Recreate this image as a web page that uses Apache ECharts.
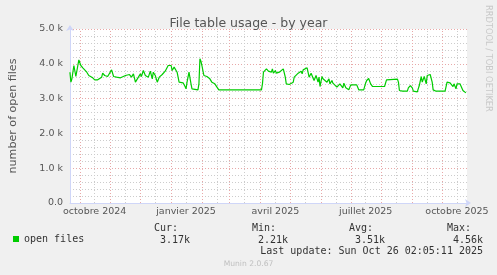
<!DOCTYPE html>
<html><head><meta charset="utf-8">
<script src="https://cdn.jsdelivr.net/npm/echarts@6/dist/echarts.min.js"></script>
<style>html,body{margin:0;padding:0;background:#F0F0F0;}#c{width:497px;height:275px;}</style>
</head><body><div id="c"></div>
<script>
const dates = [
'2024-09-21','2024-09-22','2024-09-23','2024-09-25','2024-09-27','2024-09-30','2024-10-02','2024-10-04','2024-10-06','2024-10-08',
'2024-10-10','2024-10-12','2024-10-14','2024-10-16','2024-10-18','2024-10-19','2024-10-21','2024-10-23','2024-10-24','2024-10-26',
'2024-10-28','2024-10-29','2024-10-31','2024-11-02','2024-11-04','2024-11-07','2024-11-08','2024-11-11','2024-11-13','2024-11-16',
'2024-11-18','2024-11-20','2024-11-22','2024-11-24','2024-11-26','2024-11-29','2024-12-01','2024-12-02','2024-12-04','2024-12-06',
'2024-12-08','2024-12-09','2024-12-11','2024-12-13','2024-12-14','2024-12-16','2024-12-18','2024-12-20','2024-12-23','2024-12-25',
'2024-12-26','2024-12-29','2024-12-30','2025-01-01','2025-01-02','2025-01-04','2025-01-05','2025-01-07','2025-01-08','2025-01-09',
'2025-01-10','2025-01-11','2025-01-13','2025-01-15','2025-01-16','2025-01-17','2025-01-19','2025-01-20','2025-01-21','2025-01-22',
'2025-01-24','2025-01-28','2025-01-29','2025-01-30','2025-01-31','2025-02-01','2025-02-02','2025-02-03','2025-02-04','2025-02-06',
'2025-02-08','2025-02-09','2025-02-11','2025-02-13','2025-02-14','2025-02-16','2025-02-18','2025-02-22','2025-02-23','2025-02-25',
'2025-03-05','2025-03-15','2025-03-23','2025-03-24','2025-03-25','2025-04-02','2025-04-03','2025-04-04','2025-04-06','2025-04-07',
'2025-04-08','2025-04-09','2025-04-10','2025-04-12','2025-04-13','2025-04-14','2025-04-16','2025-04-17','2025-04-19','2025-04-20',
'2025-04-22','2025-04-24','2025-04-25','2025-04-26','2025-04-27','2025-04-29','2025-04-30','2025-05-02','2025-05-04','2025-05-05',
'2025-05-07','2025-05-09','2025-05-10','2025-05-12','2025-05-13','2025-05-14','2025-05-16','2025-05-18','2025-05-19','2025-05-20',
'2025-05-22','2025-05-24','2025-05-25','2025-05-27','2025-05-29','2025-05-30','2025-05-31','2025-06-02','2025-06-03','2025-06-05',
'2025-06-07','2025-06-09','2025-06-10','2025-06-12','2025-06-13','2025-06-15','2025-06-17','2025-06-18','2025-06-20','2025-06-22',
'2025-06-23','2025-06-24','2025-06-26','2025-06-28','2025-06-29','2025-07-01','2025-07-07','2025-07-09','2025-07-14','2025-07-16',
'2025-07-17','2025-07-19','2025-07-21','2025-07-23','2025-08-04','2025-08-06','2025-08-08','2025-08-17','2025-08-18','2025-08-19',
'2025-08-22','2025-08-27','2025-08-28','2025-08-30','2025-09-01','2025-09-02','2025-09-06','2025-09-08','2025-09-10','2025-09-11',
'2025-09-13','2025-09-15','2025-09-16','2025-09-19','2025-09-21','2025-09-22','2025-09-25','2025-10-04','2025-10-06','2025-10-07',
'2025-10-09','2025-10-11','2025-10-12','2025-10-13','2025-10-15','2025-10-16','2025-10-17','2025-10-19','2025-10-21','2025-10-22',
'2025-10-24','2025-10-25'
];
const openFiles = [
3759,3472,3568,3951,3635,4114,3951,3884,3855,3759,
3664,3711,3597,3539,3501,3539,3501,3616,3731,3664,
3692,3635,3616,3826,3635,3616,3664,3597,3635,3664,
3616,3692,3616,3711,3472,3616,3711,3635,3807,3664,
3711,3616,3788,3568,3759,3664,3472,3616,3692,3711,
3788,3951,3922,3951,3807,3903,3855,3759,3616,3472,
3424,3501,3453,3347,3280,3472,3759,3731,3424,3280,
3252,3252,3424,4143,4075,3951,3807,3664,3635,3635,
3597,3568,3472,3424,3424,3376,3252,3252,3290,3252,
3252,3252,3252,3300,3252,3252,3424,3759,3807,3855,
3807,3788,3826,3759,3855,3731,3807,3731,3788,3759,
3807,3855,3826,3616,3424,3405,3405,3424,3472,3616,
3664,3731,3759,3788,3711,3826,3855,3884,3855,3616,
3731,3692,3520,3664,3472,3616,3347,3635,3568,3616,
3472,3568,3424,3520,3443,3472,3328,3309,3424,3443,
3309,3443,3309,3328,3252,3395,3395,3252,3252,3450,
3520,3578,3424,3347,3347,3539,3558,3558,3472,3232,
3213,3213,3309,3376,3309,3213,3194,3376,3635,3472,
3635,3424,3664,3692,3472,3252,3213,3213,3472,3453,
3453,3424,3347,3424,3280,3424,3405,3424,3376,3232,
3184,3165
];
const seriesName = 'open files';
const xLabelDates = ['2024-10-16','2025-01-16','2025-04-16','2025-07-16','2025-10-16'];
const xLabels = ['octobre 2024','janvier 2025','avril 2025','juillet 2025','octobre 2025'];
const monthStarts = ['2024-10-01','2024-11-01','2024-12-01','2025-01-01','2025-02-01','2025-03-01','2025-04-01','2025-05-01','2025-06-01','2025-07-01','2025-08-01','2025-09-01','2025-10-01'];
const midMonths = ['2024-10-16','2024-11-16','2024-12-16','2025-01-16','2025-02-16','2025-03-16','2025-04-16','2025-05-16','2025-06-16','2025-07-16','2025-08-16','2025-09-16','2025-10-16'];
const statLabels = ['Cur:','Min:','Avg:','Max:'];
const statValues = ['3.17k','2.21k','3.51k','4.56k'];
const rangeStart = '2024-09-21 02:05:11';
const rangeEnd = '2025-10-26 02:05:11';
const titleText = 'File table usage - by year';
const yName = 'number of open files';
const lastUpdate = 'Last update: Sun Oct 26 02:05:11 2025';
const footer = 'Munin 2.0.67';
const watermark = 'RRDTOOL / TOBI OETIKER';

const T = (d) => echarts.time.parse(d).getTime();
const chart = echarts.init(document.getElementById('c'), null, {renderer:'canvas'});
const SANS = '"DejaVu Sans"';
const MONO = '"DejaVu Sans Mono"';
const labelX = [154, 252, 349, 447];
const valueRight = [190, 288, 385, 483];
const graphics = [];
statLabels.forEach((t,i)=>{
  graphics.push({type:'text', x: labelX[i], y: 228, style:{text:t, font:'10px '+MONO, fill:'#333', align:'left', verticalAlign:'middle'}});
  graphics.push({type:'text', x: valueRight[i], y: 240, style:{text:statValues[i], font:'10px '+MONO, fill:'#333', align:'right', verticalAlign:'middle'}});
});
graphics.push({type:'text', x: 483, y: 251.5, style:{text:lastUpdate, font:'10px '+MONO, fill:'#333', align:'right', verticalAlign:'middle'}});
graphics.push({type:'text', x: 248.5, y: 264.5, style:{text:footer, font:'7.6px '+SANS, fill:'#C0C0C0', align:'center', verticalAlign:'middle'}});
graphics.push({type:'text', x: 488, y: 5, rotation: -Math.PI/2, style:{text:watermark, font:'8.3px '+SANS, fill:'#C8C8C8', align:'left', verticalAlign:'middle'}});

const gridLines = monthStarts.map(d=>({xAxis:T(d), lineStyle:{color:'#E8A8A8', type:[1,2], width:1}}))
  .concat(midMonths.map(d=>({xAxis:T(d), lineStyle:{color:'#CCCCCC', type:[1,2], width:1}})));
const labelTimes = xLabelDates.map(T);

chart.setOption({
  animation: false,
  backgroundColor: '#F0F0F0',
  title: {text: titleText, left: 'center', top: 12, textStyle:{fontFamily:SANS, fontSize:12.5, fontWeight:'normal', color:'#555'}},
  legend: {data:[seriesName], left: 13, top: 234, icon:'rect', itemWidth:6, itemHeight:6, padding:0,
    textStyle:{fontFamily:MONO, fontSize:10, color:'#333'}},
  grid: {left:67, right:30, top:29, bottom:72, backgroundColor:'#FFFFFF', show:true, borderWidth:0},
  xAxis: {
    type:'value', min:T(rangeStart), max:T(rangeEnd),
    axisLine:{show:true, lineStyle:{color:'#CFD6F8', width:1}, symbol:['none','arrow'], symbolSize:[6,6], symbolOffset:[0,4]},
    axisTick:{show:false},
    splitLine:{show:false},
    axisLabel:{customValues: labelTimes, formatter:(v)=>{
      const i = labelTimes.findIndex(t=>Math.abs(t-v)<43200000);
      return i>=0 ? xLabels[i] : '';
    }, fontFamily:SANS, fontSize:9.5, color:'#555', margin:4, hideOverlap:false}
  },
  yAxis: {
    type:'value', min:0, max:5000, interval:1000,
    name: yName, nameLocation:'middle', nameGap:51, nameRotate:90,
    nameTextStyle:{fontFamily:SANS, fontSize:11.1, color:'#555'},
    axisLine:{show:true, lineStyle:{color:'#CFD6F8', width:1}, symbol:['none','arrow'], symbolSize:[6,6], symbolOffset:[0,4]},
    axisTick:{show:false},
    axisLabel:{formatter:(v)=> v===0 ? '0.0' : (v/1000).toFixed(1)+' k', fontFamily:SANS, fontSize:9.5, color:'#555', margin:7},
    splitLine:{show:true, lineStyle:{color:'#E8A8A8', type:[1,2], width:1}},
    minorTick:{show:false, splitNumber:5},
    minorSplitLine:{show:true, lineStyle:{color:'#CCCCCC', type:[1,2], width:1}}
  },
  series: [{
    name: seriesName, type:'line', showSymbol:false, symbol:'none',
    color:'#00CC00',
    lineStyle:{color:'#00CC00', width:1.2},
    data: dates.map((d,i)=>[T(d), openFiles[i]]),
    markLine:{silent:true, symbol:['none','none'], label:{show:false}, animation:false, z:1, data: gridLines},
    z: 3
  }],
  graphic: graphics
});
</script></body></html>
